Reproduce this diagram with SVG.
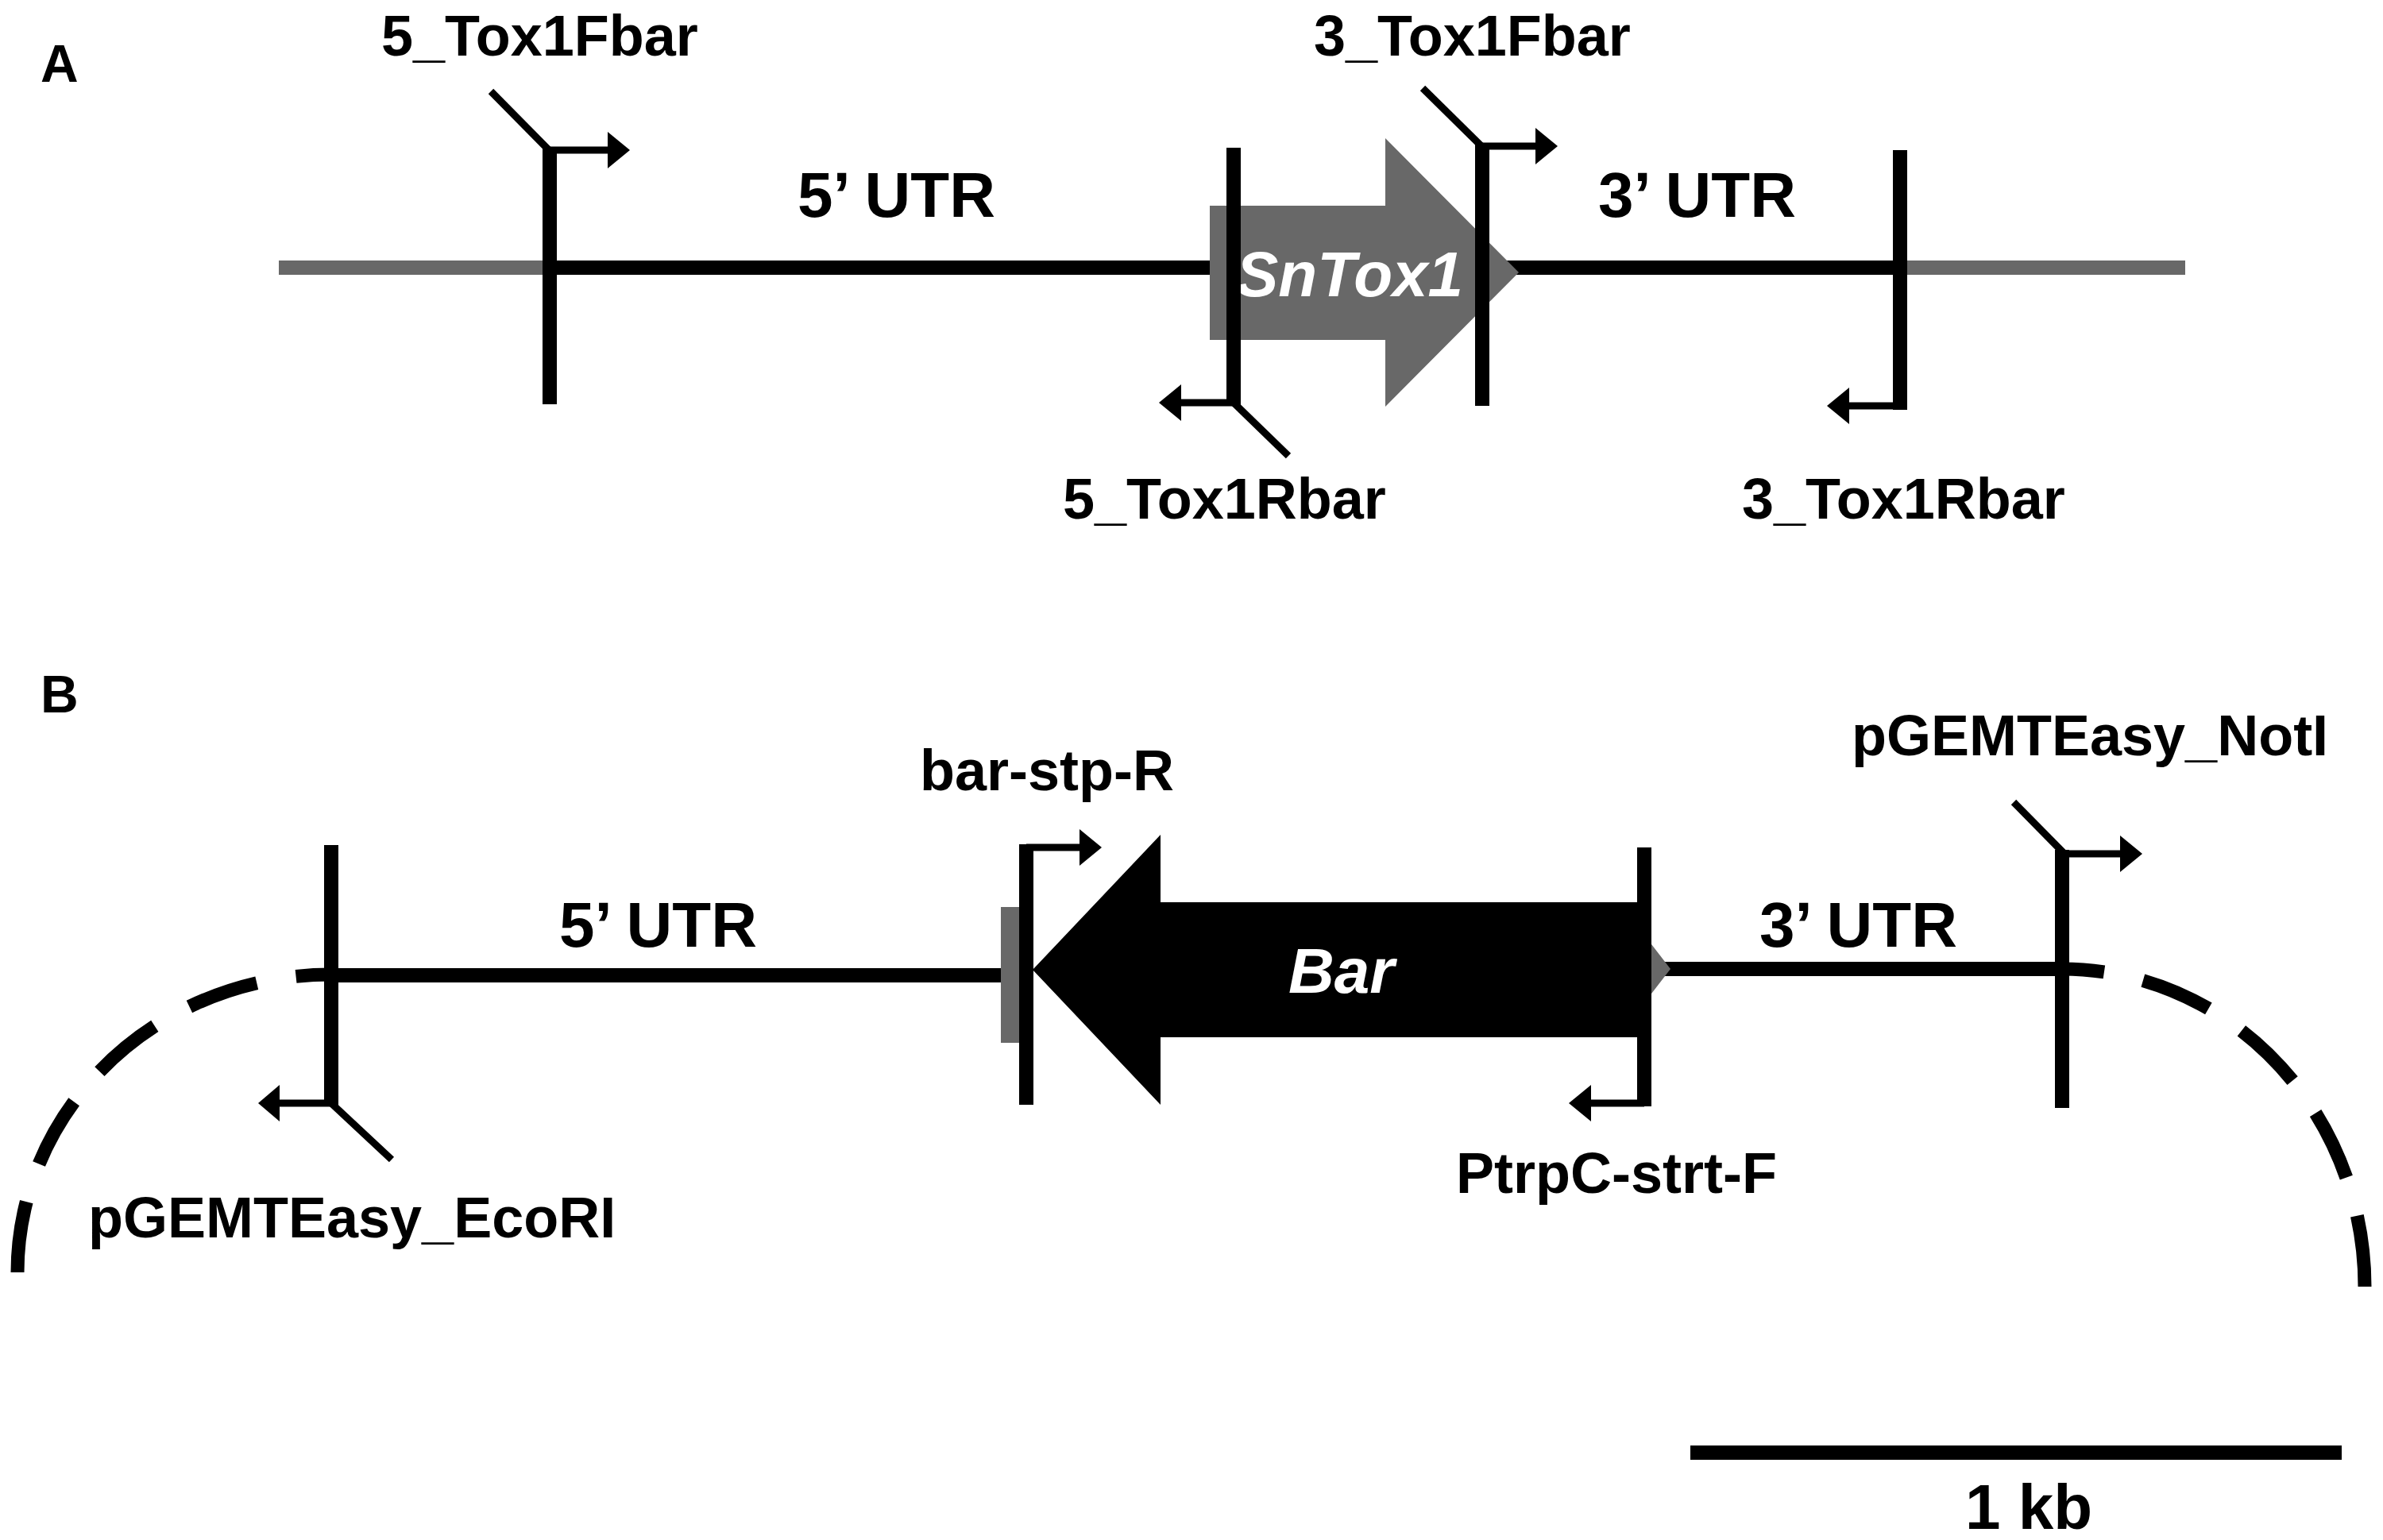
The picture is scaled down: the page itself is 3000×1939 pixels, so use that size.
<svg xmlns="http://www.w3.org/2000/svg" width="3000" height="1939" viewBox="0 0 3000 1939">
<style>
text{font-family:"Liberation Sans",Arial,sans-serif;font-weight:bold;fill:#000}
.lab{font-size:72px}
.utr{font-size:80px}
.gene{font-size:80px;font-style:italic;fill:#fff}
.panel{font-size:66px}
.bb{stroke:#000;stroke-width:18;fill:none}
.bbg{stroke:#686868;stroke-width:18;fill:none}
.site{stroke:#000;stroke-width:18;fill:none}
.thin{stroke:#000;stroke-width:9;fill:none}
.dash{stroke:#000;stroke-width:17;fill:none;stroke-dasharray:90 50}
</style>
<rect width="3000" height="1939" fill="#fff"/>
<text class="panel" x="51" y="103">A</text>
<text class="panel" x="51" y="897">B</text>

<g id="connectors">
  <!-- panel A backbone -->
  <line class="bbg" x1="351" y1="337" x2="692" y2="337"/>
  <line class="bb" x1="692" y1="337" x2="2392" y2="337"/>
  <line class="bbg" x1="2392" y1="337" x2="2751" y2="337"/>
  <!-- panel B backbone -->
  <line class="bb" x1="417" y1="1228" x2="1262" y2="1228"/>
  <line class="bb" x1="2076" y1="1220" x2="2605" y2="1220"/>
  <path class="dash" d="M22,1602 A395,375 0 0 1 417,1227"/>
  <path class="dash" d="M2977,1620 A381,400 0 0 0 2596,1220"/>
</g>

<g id="gene-SnTox1">
  <polygon fill="#686868" points="1523,259 1744,259 1744,174 1912,343 1744,512 1744,428 1523,428"/>
  <text class="gene" x="1556" y="373">SnTox1</text>
</g>

<g id="primer-5_Tox1Fbar">
  <line class="site" x1="692" y1="185" x2="692" y2="509"/>
  <line class="thin" x1="618" y1="115" x2="691" y2="189"/>
  <line class="thin" x1="692" y1="189" x2="769" y2="189"/>
  <polygon points="765,166 793,189 765,212"/>
  <text class="lab" x="480" y="70">5_Tox1Fbar</text>
</g>

<g id="primer-5_Tox1Rbar">
  <line class="site" x1="1553" y1="186" x2="1553" y2="511"/>
  <line class="thin" x1="1553" y1="507" x2="1483" y2="507"/>
  <polygon points="1487,484 1459,507 1487,530"/>
  <line class="thin" x1="1553" y1="507" x2="1622" y2="574"/>
  <text class="lab" x="1338" y="653">5_Tox1Rbar</text>
</g>

<g id="primer-3_Tox1Fbar">
  <line class="site" x1="1866" y1="180" x2="1866" y2="511"/>
  <line class="thin" x1="1791" y1="111" x2="1865" y2="184"/>
  <line class="thin" x1="1866" y1="184" x2="1937" y2="184"/>
  <polygon points="1933,161 1961,184 1933,207"/>
  <text class="lab" x="1654" y="70">3_Tox1Fbar</text>
</g>

<g id="primer-3_Tox1Rbar">
  <line class="site" x1="2392" y1="189" x2="2392" y2="516"/>
  <line class="thin" x1="2392" y1="511" x2="2324" y2="511"/>
  <polygon points="2328,488 2300,511 2328,534"/>
  <text class="lab" x="2193" y="653">3_Tox1Rbar</text>
</g>

<g id="label-5UTR-A"><text class="utr" x="1004" y="273">5’ UTR</text></g>
<g id="label-3UTR-A"><text class="utr" x="2012" y="273">3’ UTR</text></g>

<!-- panel B -->
<g id="cassette-end-gray">
  <rect x="1260" y="1142" width="24" height="171" fill="#686868"/>
  <polygon fill="#686868" points="2076,1185 2103,1220 2076,1255"/>
</g>

<g id="gene-Bar">
  <polygon fill="#000" points="1300,1221 1461,1051 1461,1136 2070,1136 2070,1306 1461,1306 1461,1391"/>
  <text class="gene" x="1622" y="1250">Bar</text>
</g>

<g id="primer-bar-stp-R">
  <line class="site" x1="1292" y1="1063" x2="1292" y2="1391"/>
  <line class="thin" x1="1292" y1="1067" x2="1363" y2="1067"/>
  <polygon points="1359,1044 1387,1067 1359,1090"/>
  <text class="lab" x="1158" y="995">bar-stp-R</text>
</g>

<g id="primer-PtrpC-strt-F">
  <line class="site" x1="2070" y1="1067" x2="2070" y2="1393"/>
  <line class="thin" x1="2070" y1="1389" x2="2000" y2="1389"/>
  <polygon points="2003,1366 1975,1389 2003,1412"/>
  <text class="lab" x="1833" y="1502">PtrpC-strt-F</text>
</g>

<g id="primer-pGEMTEasy_EcoRI">
  <line class="site" x1="417" y1="1064" x2="417" y2="1393"/>
  <line class="thin" x1="417" y1="1389" x2="348" y2="1389"/>
  <polygon points="352,1366 325,1389 352,1412"/>
  <line class="thin" x1="417" y1="1389" x2="493" y2="1460"/>
  <text class="lab" x="111" y="1558">pGEMTEasy_EcoRI</text>
</g>

<g id="primer-pGEMTEasy_NotI">
  <line class="site" x1="2596" y1="1070" x2="2596" y2="1395"/>
  <line class="thin" x1="2535" y1="1010" x2="2598" y2="1074"/>
  <line class="thin" x1="2596" y1="1075" x2="2673" y2="1075"/>
  <polygon points="2669,1052 2697,1075 2669,1098"/>
  <text class="lab" x="2331" y="951">pGEMTEasy_NotI</text>
</g>

<g id="label-5UTR-B"><text class="utr" x="704" y="1192">5’ UTR</text></g>
<g id="label-3UTR-B"><text class="utr" x="2215" y="1192">3’ UTR</text></g>

<g id="scale-bar">
  <line stroke="#000" stroke-width="18" x1="2128" y1="1829" x2="2948" y2="1829"/>
  <text class="utr" x="2474" y="1925">1 kb</text>
</g>
</svg>
